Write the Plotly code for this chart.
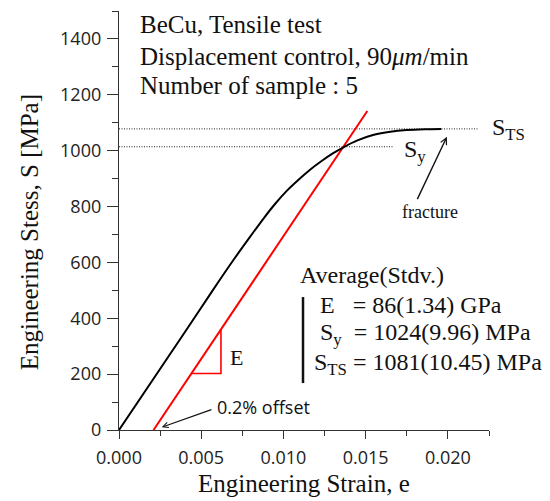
import numpy as np
import plotly.graph_objects as go

# ---- data ----
strain_curve = [0, 0.0040, 0.0057, 0.0070, 0.0080, 0.0088, 0.0095, 0.0102, 0.0109,
                0.0116, 0.0123, 0.0130, 0.0137, 0.0145, 0.0155, 0.0165, 0.0175, 0.0186, 0.0196]
stress_curve = [0, 350, 500, 612, 694, 758, 810, 856, 895,
                931, 962, 990, 1014, 1037, 1057, 1068, 1074, 1077, 1078]

offset_strain = [0.0021, 0.0151]
offset_stress = [0, 1142]

tri_strain = [0.0044, 0.0062]

sts_level, sts_end = 1078, 0.0218
sy_level, sy_end = 1014, 0.0167

x_ticks = [0.000, 0.005, 0.010, 0.015, 0.020]
x_ticklabels = ["0.000", "0.005", "0.010", "0.015", "0.020"]
y_ticks = [0, 200, 400, 600, 800, 1000, 1200, 1400]
y_ticklabels = [str(v) for v in y_ticks]

SERIF = "Liberation Serif, Times New Roman, serif"
SANS = "Open Sans, Noto Sans, sans-serif"
AX = "#333333"

fig = go.Figure()

# dotted reference levels
fig.add_trace(go.Scatter(x=[0, sts_end], y=[sts_level, sts_level], mode="lines",
                         line=dict(color="#222", width=1, dash="1px,1.5px"), hoverinfo="skip"))
fig.add_trace(go.Scatter(x=[0, sy_end], y=[sy_level, sy_level], mode="lines",
                         line=dict(color="#222", width=1, dash="1px,1.5px"), hoverinfo="skip"))

# 0.2% offset line
fig.add_trace(go.Scatter(x=offset_strain, y=offset_stress, mode="lines",
                         line=dict(color="#ff0000", width=2), hoverinfo="skip"))

# slope triangle on the offset line
tri_y = np.interp(tri_strain, offset_strain, offset_stress)
fig.add_trace(go.Scatter(x=[tri_strain[0], tri_strain[1], tri_strain[1]],
                         y=[tri_y[0], tri_y[0], tri_y[1]], mode="lines",
                         line=dict(color="#ff0000", width=1.6), hoverinfo="skip"))

# stress-strain curve
fig.add_trace(go.Scatter(x=strain_curve, y=stress_curve, mode="lines",
                         line=dict(color="#000", width=2, shape="spline", smoothing=0.8),
                         hoverinfo="skip"))

def txt(x, y, text, size=24, family=SERIF, xanchor="left", xref="x", yref="y", **kw):
    return dict(x=x, y=y, xref=xref, yref=yref, text=text, showarrow=False,
                xanchor=xanchor, yanchor="middle",
                font=dict(family=family, size=size, color="#111"), **kw)

annotations = [
    txt(0.00116, 1452, "BeCu, Tensile test", size=25),
    txt(0.00116, 1338, "Displacement control, 90<i>μm</i>/min", size=25),
    txt(0.00116, 1234, "Number of sample : 5", size=25),
    txt(1.0, 1078, "S<sub>TS</sub>", size=24, xref="paper", xshift=1),
    txt(0.0172, 1000, "S<sub>y</sub>", size=24),
    txt(0.0189, 780, "fracture", size=18, xanchor="center"),
    txt(0.00663, 258, "E", size=22),
    txt(0.00584, 82, "0.2% offset", size=18, family=SANS),
    txt(0.01088, 555, "Average(Stdv.)", size=24),
    txt(0.0121, 447, "E\u00a0\u00a0 = 86(1.34) GPa", size=24),
    txt(0.0121, 342, "S<sub>y</sub>\u00a0 = 1024(9.96) MPa", size=24),
    txt(0.01173, 238, "S<sub>TS</sub> = 1081(10.45) MPa", size=24),
    # axis titles
    txt(0.5, -0.127, "Engineering Strain, e", size=25, xanchor="center",
        xref="paper", yref="paper"),
    txt(-0.243, 0.472, "Engineering Stess, S [MPa]", size=25, xanchor="center",
        xref="paper", yref="paper", textangle=-90),
    # arrows
    dict(x=0.0026, y=10, ax=0.00571, ay=75, xref="x", yref="y", axref="x", ayref="y",
         text="", showarrow=True, arrowhead=5, arrowsize=0.9, arrowwidth=1.2, arrowcolor="#111"),
    dict(x=0.01994, y=1050, ax=0.0181, ay=821, xref="x", yref="y", axref="x", ayref="y",
         text="", showarrow=True, arrowhead=5, arrowsize=0.9, arrowwidth=1.4, arrowcolor="#111"),
]

shapes = [
    dict(type="line", xref="x", yref="y", x0=0.01119, x1=0.01119, y0=168, y1=476,
         line=dict(color="#111", width=2.5)),
]

# the page body adds an 8px offset, so margins are shifted to keep the plot box in place
fig.update_layout(
    width=550, height=501,
    margin=dict(l=111, r=69, t=3, b=79),
    paper_bgcolor="white", plot_bgcolor="white",
    showlegend=False,
    annotations=annotations, shapes=shapes,
    xaxis=dict(range=[0, 0.0225], tickmode="array", tickvals=x_ticks, ticktext=x_ticklabels,
               ticks="outside", ticklen=8, tickwidth=1.2, tickcolor=AX, ticklabelstandoff=3,
               showline=True, linecolor=AX, linewidth=1.3, showgrid=False, zeroline=False,
               tickfont=dict(family=SANS, size=18, color="#222"),
               minor=dict(dtick=0.0025, tick0=0, ticks="outside", ticklen=5,
                          tickwidth=1.2, tickcolor=AX, showgrid=False)),
    yaxis=dict(range=[0, 1500], tickmode="array", tickvals=y_ticks, ticktext=y_ticklabels,
               ticks="outside", ticklen=11, tickwidth=1.2, tickcolor=AX, ticklabelstandoff=2,
               showline=True, linecolor=AX, linewidth=1.3, showgrid=False, zeroline=False,
               tickfont=dict(family=SANS, size=18, color="#222"),
               minor=dict(dtick=100, tick0=0, ticks="outside", ticklen=6,
                          tickwidth=1.2, tickcolor=AX, showgrid=False)),
)

fig.write_html("out.html")
